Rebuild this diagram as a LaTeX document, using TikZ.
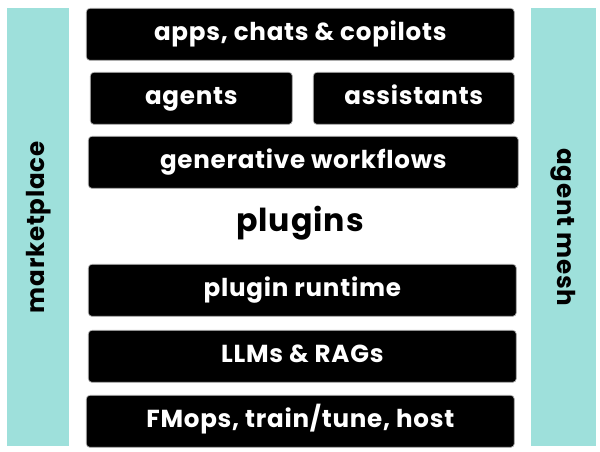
\documentclass[tikz,border=0pt]{standalone}
\usepackage{fontspec}
\setmainfont{Poppins}[BoldFont={* Bold},LetterSpace=3]
\definecolor{meshteal}{HTML}{9EE0DB}
\begin{document}
\begin{tikzpicture}[x=0.02cm,y=-0.02cm,%
% common options for the black layers:
layer/.style = {draw=gray!60, fill=black, rounded corners=2pt, inner sep=0, anchor=north west},
% common options for the texts on them:
label/.style = {text=white, font=\bfseries\fontsize{14}{16}\selectfont,
            text height=1.7ex, text depth=0.45ex},
% common options for the side bars:
sidebar/.style = {fill=meshteal, draw=none, inner sep=0, anchor=north west}]
\useasboundingbox (0,0) rectangle (600,452);
\node[sidebar,minimum width=1.24cm,minimum height=8.76cm] (market) at (7,8) {};
\node[label,text=black,rotate=90] at (market.center) {marketplace};
\node[sidebar,minimum width=1.3cm,minimum height=8.76cm] (mesh) at (531,8) {};
\node[label,text=black,rotate=-90] at (mesh.center) {agent mesh};
\node[layer,minimum width=8.56cm,minimum height=1.04cm] (apps) at (86,8) {};
\node[label] at (apps.center) {apps, chats \& copilots};
\node[layer,minimum width=4.04cm,minimum height=1.04cm] (agents) at (90,72) {};
\node[label] at (agents.center) {agents};
\node[layer,minimum width=4.02cm,minimum height=1.04cm] (assist) at (313,72) {};
\node[label] at (assist.center) {assistants};
\node[layer,minimum width=8.6cm,minimum height=1.04cm] (genwf) at (88,136) {};
\node[label] at (genwf.center) {generative workflows};
\node[font=\bfseries\fontsize{18}{20}\selectfont] (plugins) at (300,223) {plugins};
\node[layer,minimum width=8.56cm,minimum height=1.04cm] (runtime) at (88,264) {};
\node[label] at (runtime.center) {plugin runtime};
\node[layer,minimum width=8.56cm,minimum height=1.04cm] (llms) at (88,330) {};
\node[label] at (llms.center) {LLMs \& RAGs};
\node[layer,minimum width=8.56cm,minimum height=1.04cm] (fmops) at (86,395) {};
\node[label] at (fmops.center) {FMops, train/tune, host};
\end{tikzpicture}
\end{document}
